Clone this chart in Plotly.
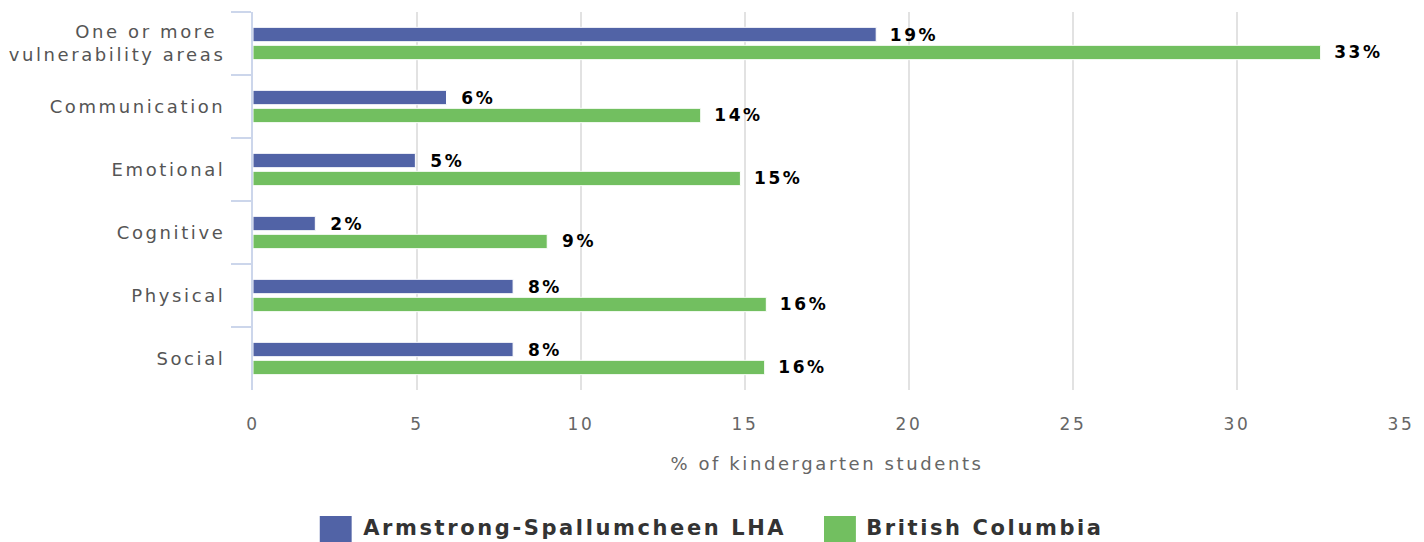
import plotly.graph_objects as go

categories = ["One or more <br>vulnerability areas", "Communication", "Emotional",
              "Cognitive", "Physical", "Social"]
series_names = ["Armstrong-Spallumcheen LHA", "British Columbia"]
armstrong = [19.0, 5.9, 4.95, 1.9, 7.93, 7.93]
bc = [32.55, 13.65, 14.86, 8.97, 15.65, 15.6]
armstrong_labels = ["19%", "6%", "5%", "2%", "8%", "8%"]
bc_labels = ["33%", "14%", "15%", "9%", "16%", "16%"]
x_ticks = [0, 5, 10, 15, 20, 25, 30, 35]
colors = ["#5163a6", "#72bf60"]

FONT = "DejaVu Sans"
W, H = 1424, 542
L, R, T, B = 253, 19, 12, 152
PH = H - T - B
SPACING = 2.6

fig = go.Figure()
for name, vals, labs, col in [(series_names[0], armstrong, armstrong_labels, colors[0]),
                              (series_names[1], bc, bc_labels, colors[1])]:
    fig.add_trace(go.Bar(
        y=categories, x=vals, orientation="h", name=name,
        marker=dict(color=col, line=dict(color="white", width=1)),
        text=["  " + t for t in labs], textposition="outside",
        textfont=dict(family=FONT, size=17, color="#000000", weight="bold"),
        constraintext="none", cliponaxis=False, showlegend=False,
    ))

fig.update_layout(
    width=W, height=H,
    margin=dict(l=L, r=R, t=T, b=B),
    paper_bgcolor="white", plot_bgcolor="white",
    barmode="group", bargap=0.43, bargroupgap=0.2,
    font=dict(family=FONT),
    xaxis=dict(range=[0, 35], tickvals=x_ticks, showgrid=True, gridcolor="#e2e2e2",
               gridwidth=2, zeroline=False, showline=False,
               tickfont=dict(family=FONT, size=17, color="#666666"),
               ticks="outside", ticklen=19, tickcolor="rgba(0,0,0,0)",
               title=dict(text="% of kindergarten students",
                          font=dict(family=FONT, size=18, color="#666666"), standoff=23)),
    yaxis=dict(autorange="reversed", showline=True, linecolor="#ccd6eb", linewidth=2,
               ticks="outside", tickson="boundaries", ticklen=20, tickwidth=2,
               tickcolor="#ccd6eb", showgrid=False,
               tickfont=dict(family=FONT, size=18, color="#555555"),
               ticklabelstandoff=22),
)

# manual legend (large square symbols), positions in paper fractions
def px_x(p):
    return (p - L) / (W - L - R)

def px_y(p):
    return (H - B - p) / PH

legend_items = [(series_names[0], colors[0], 320, 352, 362),
                (series_names[1], colors[1], 826, 858, 866)]
for name, col, x0, x1, xt in legend_items:
    fig.add_shape(type="rect", xref="paper", yref="paper", x0=px_x(x0), x1=px_x(x1),
                  y0=px_y(545), y1=px_y(516), fillcolor=col, line=dict(width=0))
    # letter-spacing is applied by CSS after layout; text is centred in its box,
    # so shift the box right by half of the added width
    shift = len(name) * SPACING / 2
    fig.add_annotation(xref="paper", yref="paper", x=px_x(xt + shift), y=px_y(528),
                       xanchor="left", yanchor="middle", showarrow=False,
                       text="<b>" + name + "</b>",
                       font=dict(family=FONT, size=21, color="#333333"))

post = """
document.body.style.margin='0';
var s=document.createElement('style');
s.innerHTML='body{margin:0;} .main-svg text{letter-spacing:%spx;}';
document.head.appendChild(s);
""" % SPACING
fig.write_html("out.html", post_script=post, config={"displayModeBar": False})
